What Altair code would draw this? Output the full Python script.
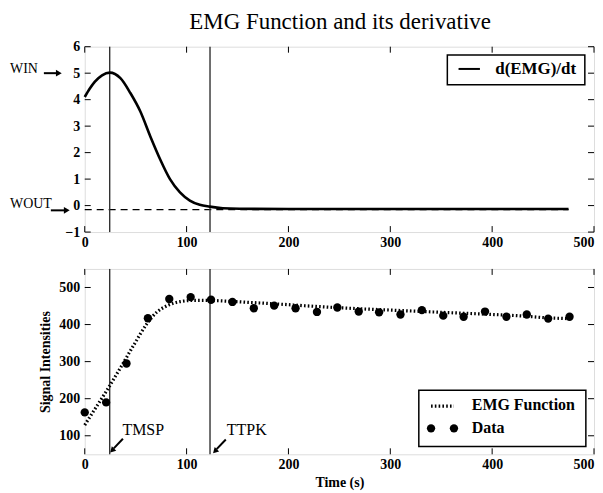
import altair as alt
import pandas as pd

# ---------------- data ----------------
deriv_t = [0, 5, 10, 17, 24.6, 35, 44.8, 54.5, 64.3, 74, 83.7, 93.5, 103.2, 112.9, 122.7, 135.6, 152, 200, 300, 400, 475]
deriv_v = [4.10, 4.42, 4.68, 4.92, 5.02, 4.81, 4.25, 3.56, 2.62, 1.75, 1.00, 0.50, 0.19, 0.03, -0.04, -0.10, -0.12, -0.13, -0.13, -0.13, -0.13]

emg_t = [0, 10, 20, 25, 35, 48, 61, 71, 81, 94, 107, 120, 140, 160, 186, 226, 267, 300, 350, 393, 430, 455, 475]
emg_v = [129, 172, 215, 237, 283, 344, 402, 434, 451, 462, 465, 465, 463, 460, 456, 449, 443, 439, 433, 428, 423, 418, 416]

data_t = [0, 21, 41, 62, 83, 104, 124, 145, 166, 186, 207, 228, 248, 269, 289, 310, 331, 352, 372, 393, 414, 434, 455, 476]
data_v = [163, 190, 295, 417, 469, 474, 467, 461, 444, 451, 444, 434, 446, 435, 433, 427, 439, 424, 421, 435, 421, 427, 416, 421]

marker_t = [24.5, 123.0]          # TMSP, TTPK
wout_level = -0.15
x_ticks = [0, 100, 200, 300, 400, 500]
top_y_ticks = [-1, 0, 1, 2, 3, 4, 5, 6]
bot_y_ticks = [100, 200, 300, 400, 500]

SERIF = "Liberation Serif"
W, H = 511, 186
TL = 6  # inward tick length

deriv_df = pd.DataFrame({"t": deriv_t, "d": deriv_v})
emg_df = pd.DataFrame({"t": emg_t, "s": emg_v})
pts_df = pd.DataFrame({"t": data_t, "s": data_v})
mark_df = pd.DataFrame({"t": marker_t})

xs_top = alt.Scale(domain=[0, 500], nice=False, zero=False)
ys_top = alt.Scale(domain=[-1, 6], nice=False, zero=False)
xs_bot = alt.Scale(domain=[0, 500], nice=False, zero=False)
ys_bot = alt.Scale(domain=[50, 550], nice=False, zero=False)

def xaxis(title=None):
    kw = dict(values=x_ticks, ticks=False, domain=False, grid=False, labelFont=SERIF,
              labelFontWeight="bold", labelFontSize=14, labelPadding=3, labelColor="black",
              format="d", labelOverlap=False,
              labelAlign=alt.expr("datum.value >= 500 ? 'right' : 'center'"))
    if title:
        kw.update(title=title, titleFont=SERIF, titleFontWeight="bold",
                  titleFontSize=14, titlePadding=4, titleColor="black")
    else:
        kw.update(title=None)
    return alt.Axis(**kw)

def yaxis(vals, title=None):
    kw = dict(values=vals, ticks=False, domain=False, grid=False, labelFont=SERIF,
              labelFontWeight="bold", labelFontSize=14, labelPadding=5, labelColor="black",
              format="d", labelOverlap=False)
    if title:
        kw.update(title=title, titleFont=SERIF, titleFontWeight="bold",
                  titleFontSize=14, titlePadding=6, titleColor="black")
    else:
        kw.update(title=None)
    return alt.Axis(**kw)

AX_T = xaxis()
AY_T = yaxis(top_y_ticks)
AX_B = xaxis("Time (s)")
AY_B = yaxis(bot_y_ticks, "Signal Intensities")

def XT(f="t"):
    return alt.X(f"{f}:Q", scale=xs_top, axis=AX_T)
def YT(f="d"):
    return alt.Y(f"{f}:Q", scale=ys_top, axis=AY_T)
def XB(f="t"):
    return alt.X(f"{f}:Q", scale=xs_bot, axis=AX_B)
def YB(f="s"):
    return alt.Y(f"{f}:Q", scale=ys_bot, axis=AY_B)

def tick_layers(Xf, Yf, yvals, yname):
    xt = pd.DataFrame({"t": x_ticks})
    yt = pd.DataFrame({yname: yvals})
    st = dict(color="black", strokeWidth=1)
    return [
        alt.Chart(xt).mark_rule(**st).encode(x=Xf(), y=alt.value(H), y2=alt.value(H - TL)),
        alt.Chart(xt).mark_rule(**st).encode(x=Xf(), y=alt.value(0), y2=alt.value(TL)),
        alt.Chart(yt).mark_rule(**st).encode(y=Yf(), x=alt.value(0), x2=alt.value(TL)),
        alt.Chart(yt).mark_rule(**st).encode(y=Yf(), x=alt.value(W - TL), x2=alt.value(W)),
    ]

# ---------------- top panel ----------------
deriv_line = alt.Chart(deriv_df).mark_line(color="black", strokeWidth=2.6, interpolate="monotone").encode(x=XT(), y=YT())
vlines_top = alt.Chart(mark_df).mark_rule(color="#333333", strokeWidth=1.4).encode(x=XT())
dash_df = pd.DataFrame({"t": [0], "t2": [475], "d": [wout_level]})
dash_line = alt.Chart(dash_df).mark_rule(color="black", strokeWidth=1.2, strokeDash=[7, 5]).encode(
    x=XT(), x2="t2:Q", y=YT())

ann_df = pd.DataFrame({"lab": ["WIN", "WOUT"], "d": [5.16, 0.07]})
win_txt = alt.Chart(ann_df).mark_text(font=SERIF, fontSize=14, align="left", baseline="middle", color="black").encode(
    x=alt.value(-75), y=YT(), text="lab:N")
arrow_shafts = alt.Chart(pd.DataFrame({"d": [5.0]})).mark_rule(color="black", strokeWidth=2).encode(
    x=alt.value(-41), x2=alt.value(-28), y=YT())
arrow_heads = alt.Chart(pd.DataFrame({"d": [5.0]})).mark_point(shape="triangle-right", filled=True, color="black", size=45, opacity=1).encode(
    x=alt.value(-26), y=YT())
arrow_shafts2 = alt.Chart(pd.DataFrame({"d": [-0.18]})).mark_rule(color="black", strokeWidth=2).encode(
    x=alt.value(-34), x2=alt.value(-20), y=YT())
arrow_heads2 = alt.Chart(pd.DataFrame({"d": [-0.18]})).mark_point(shape="triangle-right", filled=True, color="black", size=45, opacity=1).encode(
    x=alt.value(-18), y=YT())

# legend (top)
lg1_box = alt.Chart(pd.DataFrame({"t": [356], "t2": [491], "d": [5.69], "d2": [4.56]})).mark_rect(
    fill="white", stroke="black", strokeWidth=1.5).encode(x=XT(), x2="t2:Q", y=YT(), y2="d2:Q")
lg1_line = alt.Chart(pd.DataFrame({"t": [367], "t2": [388], "d": [5.16]})).mark_rule(color="black", strokeWidth=2).encode(
    x=XT(), x2="t2:Q", y=YT())
lg1_txt = alt.Chart(pd.DataFrame({"t": [403], "d": [5.16], "lab": ["d(EMG)/dt"]})).mark_text(
    font=SERIF, fontSize=17, fontWeight="bold", align="left", baseline="middle", color="black").encode(
    x=XT(), y=YT(), text="lab:N")

top = alt.layer(
    dash_line, vlines_top, deriv_line, win_txt, arrow_shafts, arrow_heads, arrow_shafts2, arrow_heads2,
    *tick_layers(XT, YT, top_y_ticks, "d"),
    lg1_box, lg1_line, lg1_txt,
).properties(width=W, height=H)

# ---------------- bottom panel ----------------
emg_line = alt.Chart(emg_df).mark_line(color="black", strokeWidth=3.2, strokeDash=[1.6, 2.2], interpolate="monotone").encode(x=XB(), y=YB())
pts = alt.Chart(pts_df).mark_circle(color="black", size=70, opacity=1).encode(x=XB(), y=YB())
vlines_bot = alt.Chart(mark_df).mark_rule(color="#333333", strokeWidth=1.4).encode(x=XB())

lab_df = pd.DataFrame({"t": [37, 139.5], "s": [116, 116], "lab": ["TMSP", "TTPK"]})
lab_txt = alt.Chart(lab_df).mark_text(font=SERIF, fontSize=16, align="left", baseline="middle", color="black").encode(
    x=XB(), y=YB(), text="lab:N")
darr_df = pd.DataFrame({"t": [37.5, 138.5], "s": [92, 90], "t2": [28.5, 129.5], "s2": [66, 64]})
darr_shaft = alt.Chart(darr_df).mark_rule(color="black", strokeWidth=2).encode(
    x=XB(), y=YB(), x2="t2:Q", y2="s2:Q")
dhead_df = pd.DataFrame({"t": [27.5, 128.5], "s": [62, 60]})
darr_head = alt.Chart(dhead_df).mark_point(shape="triangle", angle=225, filled=True, color="black", size=40, opacity=1).encode(
    x=XB(), y=YB())

# legend (bottom)
lg2_box = alt.Chart(pd.DataFrame({"t": [328], "t2": [492], "s": [223], "s2": [71]})).mark_rect(
    fill="white", stroke="black", strokeWidth=1.5).encode(x=XB(), x2="t2:Q", y=YB(), y2="s2:Q")
lg2_line = alt.Chart(pd.DataFrame({"t": [340], "t2": [362.5], "s": [180]})).mark_rule(
    color="black", strokeWidth=3.2, strokeDash=[1.6, 2.2]).encode(x=XB(), x2="t2:Q", y=YB())
lg2_dots = alt.Chart(pd.DataFrame({"t": [340, 362.5], "s": [120, 120]})).mark_circle(color="black", size=70, opacity=1).encode(
    x=XB(), y=YB())
lg2_txt = alt.Chart(pd.DataFrame({"t": [380, 380], "s": [182, 120], "lab": ["EMG Function", "Data"]})).mark_text(
    font=SERIF, fontSize=16, fontWeight="bold", align="left", baseline="middle", color="black").encode(
    x=XB(), y=YB(), text="lab:N")

bottom = alt.layer(
    vlines_bot, emg_line, pts, lab_txt, darr_shaft, darr_head,
    *tick_layers(XB, YB, bot_y_ticks, "s"),
    lg2_box, lg2_line, lg2_dots, lg2_txt,
).properties(width=W, height=H)

chart = alt.vconcat(top, bottom, spacing=37, bounds="flush").resolve_scale(
    x="independent", y="independent"
).properties(
    title=alt.TitleParams("EMG Function and its derivative", font=SERIF, fontSize=23,
                          fontWeight="normal", color="black", anchor="middle", offset=7,
                          dx=38, dy=2),
    padding={"left": 1, "top": 2, "right": 0, "bottom": 2},
).configure_view(stroke="black", strokeWidth=1.3).configure(background="white")

chart.save("out.html", embed_options={"renderer": "svg", "actions": False})
